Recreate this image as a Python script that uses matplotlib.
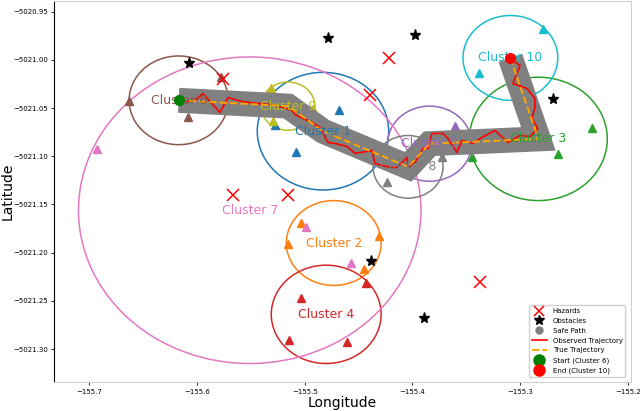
import matplotlib
matplotlib.use('Agg')
import matplotlib.pyplot as plt
from matplotlib.patches import Circle
from matplotlib.lines import Line2D

# cluster summary (centre + enclosing radius, degrees)
cluster_ids = [1, 2, 3, 4, 5, 6, 7, 8, 9, 10]
center_lon = [-155.483, -155.473, -155.283, -155.480, -155.384,
              -155.617, -155.551, -155.404, -155.5155, -155.309]
center_lat = [-5021.074, -5021.190, -5021.082, -5021.264, -5021.087,
              -5021.042, -5021.156, -5021.111, -5021.048, -5020.998]
radius = [0.061, 0.044, 0.064, 0.051, 0.039, 0.046, 0.159, 0.0325, 0.025, 0.044]

# member points of each cluster
member_lon = {
    1: [-155.4681, -155.5081, -155.5276],
    2: [-155.5034, -155.5155, -155.4310, -155.4449],
    3: [-155.2332, -155.2648, -155.3447],
    4: [-155.5034, -155.5146, -155.4607, -155.4431],
    5: [-155.3604],
    6: [-155.6631, -155.6084, -155.5777],
    7: [-155.6929, -155.4988, -155.4570],
    8: [-155.4236, -155.3725],
    9: [-155.5313, -155.4923, -155.5294],
    10: [-155.2787, -155.3382],
}
member_lat = {
    1: [-5021.0525, -5021.0961, -5021.0681],
    2: [-5021.1696, -5021.1914, -5021.1831, -5021.2173],
    3: [-5021.0702, -5021.0981, -5021.1012],
    4: [-5021.2474, -5021.2909, -5021.2930, -5021.2318],
    5: [-5021.0691],
    6: [-5021.0432, -5021.0588, -5021.0183],
    7: [-5021.0930, -5021.1738, -5021.2111],
    8: [-5021.1272, -5021.1012],
    9: [-5021.0297, -5021.0505, -5021.0639],
    10: [-5020.9676, -5021.0132],
}

hazard_lon = [-155.5759, -155.5666, -155.5155, -155.4217, -155.4394, -155.3372]
hazard_lat = [-5021.0194, -5021.1406, -5021.1406, -5020.9976, -5021.0360, -5021.2308]

obstacle_lon = [-155.6074, -155.4784, -155.3976, -155.4384, -155.2695, -155.3892]
obstacle_lat = [-5021.0028, -5020.9769, -5020.9738, -5021.2090, -5021.0411, -5021.2681]

# visiting order of clusters (true trajectory / safe path)
route = [6, 9, 1, 8, 5, 3, 10]

# observed (noisy) trajectory
obs_lon = [-155.6176, -155.6018, -155.5944, -155.5879, -155.5786, -155.5712, -155.5582,
           -155.5443, -155.5322, -155.5201, -155.5118, -155.5090, -155.5016, -155.4932,
           -155.4858, -155.4784, -155.4719, -155.4607, -155.4533, -155.4375, -155.4347,
           -155.4208, -155.4143, -155.4086, -155.4050, -155.4041, -155.3976, -155.3948,
           -155.3902, -155.3855, -155.3818, -155.3716, -155.3669, -155.3586, -155.3540,
           -155.3437, -155.3354, -155.3233, -155.3112, -155.3001, -155.2908, -155.2834,
           -155.2890, -155.2862, -155.2862, -155.2936, -155.3066, -155.3001, -155.3094]
obs_lat = [-5021.0442, -5021.0422, -5021.0349, -5021.0432, -5021.0546, -5021.0391, -5021.0432,
           -5021.0453, -5021.0463, -5021.0494, -5021.0525, -5021.0567, -5021.0608, -5021.0650,
           -5021.0702, -5021.0857, -5021.0867, -5021.0898, -5021.0971, -5021.0940, -5021.1075,
           -5021.1116, -5021.1116, -5021.1054, -5021.1012, -5021.1116, -5021.1064, -5021.1012,
           -5021.0919, -5021.0919, -5021.0764, -5021.0764, -5021.0816, -5021.0961, -5021.0836,
           -5021.0867, -5021.0805, -5021.0733, -5021.0857, -5021.0784, -5021.0795, -5021.0712,
           -5021.0608, -5021.0494, -5021.0401, -5021.0297, -5021.0246, -5021.0059, -5020.9987]

colors = plt.get_cmap('tab10').colors


def main():
    fig = plt.figure(figsize=(6.4, 4.11), dpi=100)
    ax = fig.add_axes([0.0848, 0.0698, 0.9011, 0.9277])

    # clusters: enclosing circle, members, label
    for i, cid in enumerate(cluster_ids):
        c = colors[(cid - 1) % 10]
        ax.add_patch(Circle((center_lon[i], center_lat[i]), radius[i],
                            fill=False, edgecolor=c, lw=1.1, zorder=1))
        ax.plot(member_lon[cid], member_lat[cid], '^', color=c, ms=5.5, ls='', zorder=2)

    idx = [cluster_ids.index(c) for c in route]
    route_lon = [center_lon[i] for i in idx]
    route_lat = [center_lat[i] for i in idx]

    ax.plot(route_lon, route_lat, color='gray', lw=18, solid_capstyle='butt',
            solid_joinstyle='miter', zorder=3)
    ax.plot(obs_lon, obs_lat, color='red', lw=1.2, zorder=4, label='Observed Trajectory')
    ax.plot(route_lon, route_lat, '--', color='orange', lw=1.4, zorder=5, label='True Trajectory')

    for i, cid in enumerate(cluster_ids):
        ax.text(center_lon[i], center_lat[i], f'Cluster {cid}', color=colors[(cid - 1) % 10],
                fontsize=9, ha='center', va='center', zorder=6)

    ax.plot(hazard_lon, hazard_lat, 'x', color='red', ms=9, mew=1.1, ls='', zorder=6)
    ax.plot(obstacle_lon, obstacle_lat, '*', color='black', ms=8, ls='', zorder=6)
    ax.plot(route_lon[0], route_lat[0], 'o', color='green', ms=7, zorder=7)
    ax.plot(route_lon[-1], route_lat[-1], 'o', color='red', ms=7, zorder=7)

    ax.set_xlim(-155.7325, -155.197)
    ax.set_ylim(-5021.3345, -5020.939)
    ax.ticklabel_format(useOffset=False)
    ax.set_xticks([-155.7, -155.6, -155.5, -155.4, -155.3, -155.2])
    ax.set_yticks([-5020.95, -5021.00, -5021.05, -5021.10, -5021.15, -5021.20, -5021.25, -5021.30])
    ax.tick_params(labelsize=5, length=2.5, width=0.6, pad=2)
    for s in ['top', 'right', 'bottom']:
        ax.spines[s].set_color('#d0d0d0')
    ax.set_xlabel('Longitude', fontsize=10, labelpad=1)
    ax.set_ylabel('Latitude', fontsize=10)
    ax.yaxis.set_label_coords(-0.068, 0.5)

    handles = [
        Line2D([], [], marker='x', color='red', ls='', ms=7, mew=1.1),
        Line2D([], [], marker='*', color='black', ls='', ms=7),
        Line2D([], [], marker='o', color='gray', ls='', ms=5),
        Line2D([], [], color='red', lw=1.2),
        Line2D([], [], color='orange', lw=1.4, ls='--'),
        Line2D([], [], marker='o', color='green', ls='', ms=8),
        Line2D([], [], marker='o', color='red', ls='', ms=8),
    ]
    labels = ['Hazards', 'Obstacles', 'Safe Path', 'Observed Trajectory',
              'True Trajectory', 'Start (Cluster 6)', 'End (Cluster 10)']
    ax.legend(handles, labels, loc='lower right', fontsize=5, handlelength=2.2,
              labelspacing=0.55, borderaxespad=0.8, framealpha=1, edgecolor='#d0d0d0')

    fig.savefig('out.png', dpi=100)


if __name__ == '__main__':
    main()
